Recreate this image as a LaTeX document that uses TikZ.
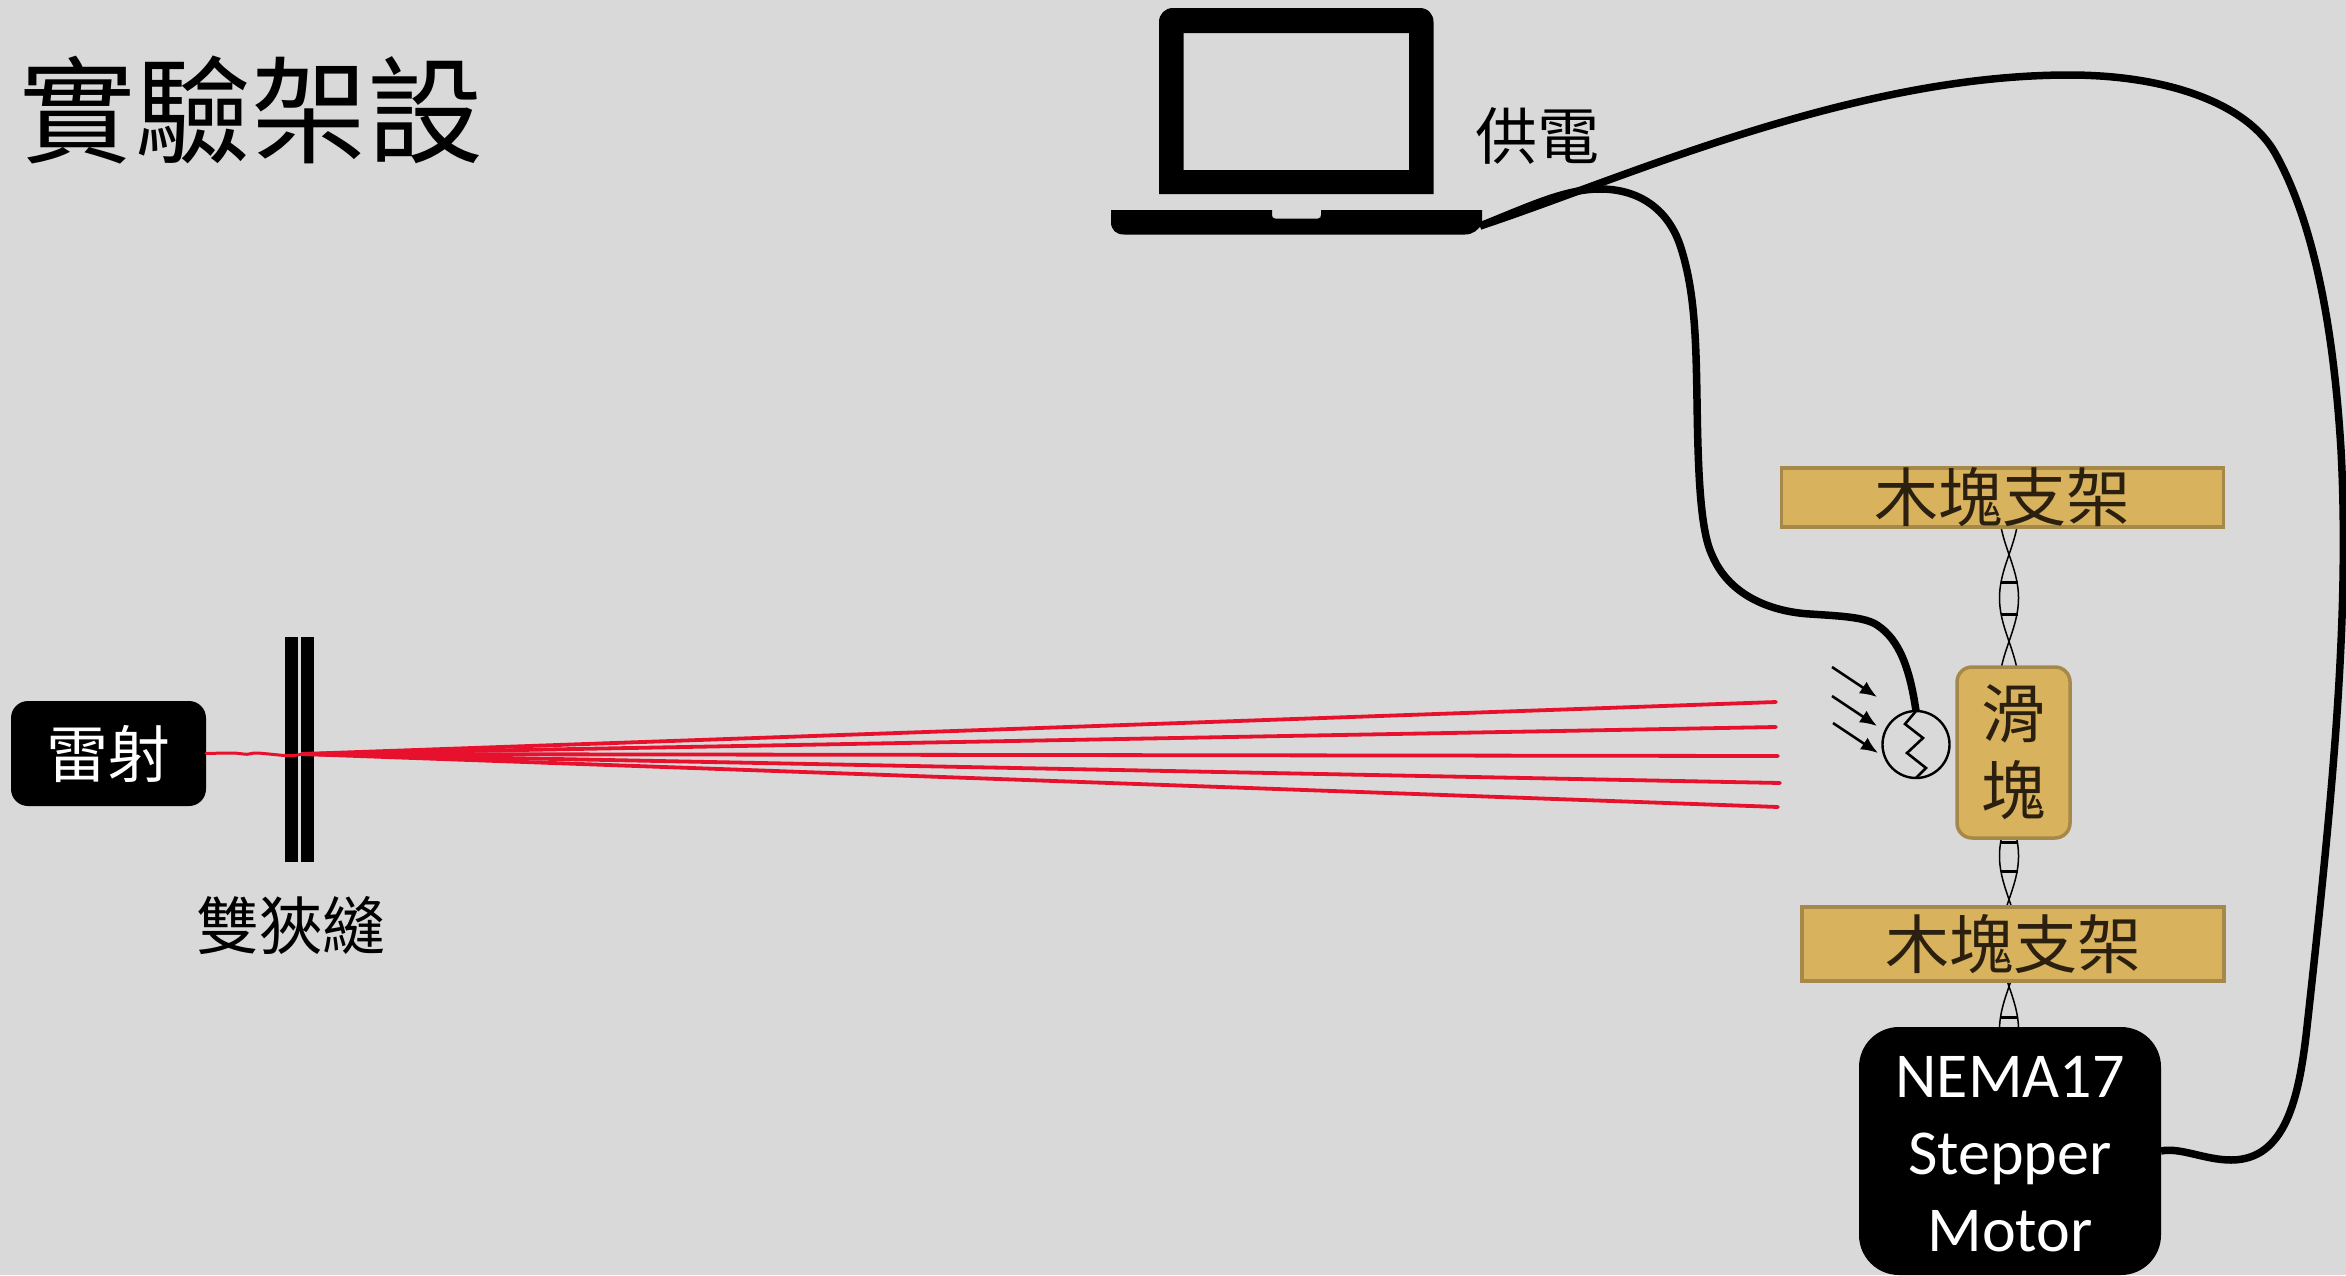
\documentclass[tikz,border=0pt]{standalone}
\usepackage{fontspec}
\setmainfont{Carlito}
\newfontfamily\cjk{Noto Sans CJK TC}
\usetikzlibrary{arrows.meta}
\definecolor{bggray}{HTML}{D9D9D9}
\definecolor{wood}{HTML}{D8B25C}
\definecolor{woodedge}{HTML}{A5884A}
\definecolor{woodtext}{HTML}{2B2010}
\definecolor{beam}{HTML}{E8112D}
\newcommand{\fs}[1]{\fontsize{#1}{#1}\selectfont}
\tikzset{
  x=1pt,y=-1pt,
  txt/.style={inner sep=0pt,outer sep=0pt,font=\cjk\fs{#1}},
  woodbox/.style={draw=woodedge,fill=wood,line width=3.5pt,inner sep=0pt,outer sep=0pt,text=woodtext,font=\cjk\fs{64}},
  blackbox/.style={fill=black,inner sep=0pt,outer sep=0pt,text=white,align=center},
  wire/.style={line width=7.5pt,draw=black,line join=round},
  strand/.style={draw=black,line width=1.5pt},
  rung/.style={draw=black,line width=3pt},
  ray/.style={draw=beam,line width=3.8pt,line cap=round},
  light/.style={draw=black,line width=2.6pt,-{Latex[length=17pt,width=14pt]}},
}
\begin{document}
\begin{tikzpicture}
\useasboundingbox (0,0) rectangle (2346,1275);
\fill[bggray] (0,0) rectangle (2346,1275);

% title and labels
\node[txt=116] (title) at (251.5,110) {實驗架設};
\node[txt=62] (power) at (1537,136) {供電};
\node[txt=63] (slitlabel) at (291,925) {雙狹縫};

% springs (twisted strands)
\foreach \ya/\yb/\yc in {527/666/598,839/905/856,983/1027/1030}{
  \draw[strand] plot[domain=\ya:\yb,samples=50,smooth] ({2009+9.5*cos(180*(\x-\yc)/87)},\x);
  \draw[strand] plot[domain=\ya:\yb,samples=50,smooth] ({2009-9.5*cos(180*(\x-\yc)/87)},\x);
}
\foreach \yr in {582,614,842,871,1017}{
  \draw[rung] (2000.5,\yr) -- (2017.5,\yr);
}

% boxes
\node[woodbox,minimum width=442pt,minimum height=55pt] (woodtop) at (2002.5,497.5) {\raisebox{2pt}{木塊支架}};
\node[woodbox,minimum width=422pt,minimum height=74pt] (woodbot) at (2013,944) {\raisebox{2pt}{木塊支架}};
\node[woodbox,rounded corners=15pt,minimum width=113pt,minimum height=171pt,align=center,font=\cjk\fontsize{64}{77}\selectfont] (slider) at (2013.5,752.5) {滑\\塊};
\node[blackbox,rounded corners=40pt,minimum width=302pt,minimum height=248pt,font=\fontsize{64}{77}\selectfont] (motor) at (2010,1151) {\rule{0pt}{47pt}NEMA17\\Stepper\\Motor};
\node[blackbox,rounded corners=17pt,minimum width=195pt,minimum height=105pt,font=\cjk\fs{62}] (laser) at (108.5,753.5) {\raisebox{3pt}{雷射}};

% double slit
\fill[black] (285,637) rectangle (298,862);
\fill[black] (301,637) rectangle (314,862);

% laser rays
\coordinate (slit) at (302,754);
\draw[draw=beam,line width=3pt,line cap=round] plot[smooth,tension=.5] coordinates {(laser.east) (233,753) (247,754.3) (257,753) (287,755.7) (297,755) (slit)};
\foreach \ex/\ey [count=\i] in {1776/702,1776/727,1778/756,1780/783,1778/807}{
  \coordinate (rayend\i) at (\ex,\ey);
  \draw[ray] (slit) -- (rayend\i);
}

% laptop
\fill[black,even odd rule] (1159,194) -- (1159,22) .. controls (1159,14) and (1165,8) .. (1173,8) -- (1419.5,8) .. controls (1428,8) and (1433.5,14) .. (1433.5,22) -- (1433.5,194) -- cycle (1183.5,33) rectangle (1409,170);
\fill[black] (1111,210) -- (1272,210) -- (1272,215) .. controls (1272,217) and (1273,218.5) .. (1275,218.5) -- (1318,218.5) .. controls (1320,218.5) and (1321,217) .. (1321,215) -- (1321,210) -- (1482,210) -- (1482,224) .. controls (1478,230) and (1473,234.5) .. (1465,234.5) -- (1124,234.5) .. controls (1116,234.5) and (1111,230) .. (1111,222) -- cycle;
\coordinate (laptopplug) at (1480,226);

% photoresistor
\node[draw=black,line width=2.4pt,circle,minimum size=67pt,inner sep=0pt,outer sep=0pt] (pr) at (1916,744.5) {};
\draw[black,line width=2.6pt,line join=miter] (pr.north) -- (1905,724) -- (1923,738) -- (1907,753) -- (1926,768) -- (pr.south);
\foreach \i/\xa/\ya/\xb/\yb in {1/1832/667/1877/697,2/1832/696/1877/726,3/1833/723/1878/753}{
  \coordinate (lighta\i) at (\xa,\ya);
  \coordinate (lightb\i) at (\xb,\yb);
  \draw[light] (lighta\i) -- (lightb\i);
}

% wires
\draw[wire] (laptopplug) .. controls (1530,206) and (1565,189) .. (1600,189)
  .. controls (1640,189) and (1668,210) .. (1680,245)
  .. controls (1695,290) and (1696,340) .. (1697,400)
  .. controls (1698,470) and (1700,530) .. (1712,555)
  .. controls (1730,598) and (1775,612) .. (1810,614)
  .. controls (1840,616) and (1865,617) .. (1877,625)
  .. controls (1900,640) and (1910,670) .. (pr.north);
\draw[wire] (laptopplug) .. controls (1620,180) and (1850,75) .. (2069,75)
  .. controls (2170,75) and (2248,105) .. (2275,153)
  .. controls (2306,208) and (2332,300) .. (2341,450)
  .. controls (2350,620) and (2332,800) .. (2307,1027)
  .. controls (2299,1100) and (2285,1160) .. (2231,1160)
  .. controls (2205,1160) and (2180,1147) .. (motor.east);
\end{tikzpicture}
\end{document}
